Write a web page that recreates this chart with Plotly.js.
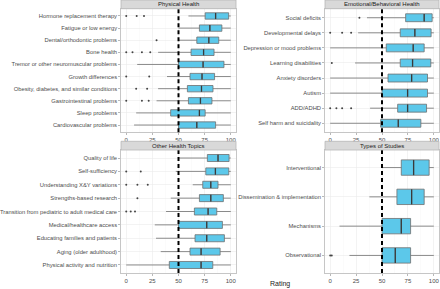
<!DOCTYPE html>
<html><head><meta charset="utf-8">
<script src="https://cdn.plot.ly/plotly-3.0.1.min.js"></script>
<style>html,body{margin:0;padding:0;background:#fff}#chart{width:440px;height:289px}</style>
</head><body><div id="chart"></div>
<script>
// ---------- DATA ----------
const panelTitles = ["Physical Health", "Emotional/Behavioral Health", "Other Health Topics", "Types of Studies"];

const physCats = ["Hormone replacement therapy","Fatigue or low energy","Dental/orthodontic problems","Bone health","Tremor or other neuromuscular problems","Growth differences","Obesity, diabetes, and similar conditions","Gastrointestinal problems","Sleep problems","Cardiovascular problems"];
const physLo  = [59.5, 50, 50, 30.5, 10.5, 39, 30.5, 29, 9.5, 7.5];
const physQ1  = [75.5, 70, 67.5, 62, 50, 61, 58.5, 59.5, 42.5, 50];
const physMed = [85.5, 80, 79, 74, 73.5, 72.5, 72, 71, 70, 67.5];
const physQ3  = [98, 91.5, 88.5, 84, 93.5, 84.5, 83, 82, 75.5, 85.5];
const physHi  = [100, 100, 100, 100, 100, 100, 100, 100, 100, 100];
const physOutCat = ["Hormone replacement therapy","Hormone replacement therapy","Hormone replacement therapy","Dental/orthodontic problems","Bone health","Bone health","Bone health","Bone health","Growth differences","Growth differences","Obesity, diabetes, and similar conditions","Obesity, diabetes, and similar conditions","Gastrointestinal problems","Gastrointestinal problems","Gastrointestinal problems"];
const physOutVal = [0, 10, 17, 29, 0, 6, 15, 23, 0, 22, 9.5, 20, 0, 15, 21.5];

const emoCats = ["Social deficits","Developmental delays","Depression or mood problems","Learning disabilities","Anxiety disorders","Autism","ADD/ADHD","Self harm and suicidality"];
const emoLo  = [35.5, 27, 0, 24, 0, 0, 38.5, 0];
const emoQ1  = [72.8, 67.6, 54.1, 67.6, 55.8, 50, 65.1, 48.7];
const emoMed = [90.7, 81.7, 80.1, 79.5, 78.6, 74.7, 74.7, 65.7];
const emoQ3  = [98.4, 97.4, 90.7, 97.1, 93.9, 93.9, 93, 87.5];
const emoHi  = [100, 100, 100, 100, 100, 100, 100, 100];
const emoOutCat = ["Social deficits","Developmental delays","Developmental delays","Developmental delays","Learning disabilities","ADD/ADHD","ADD/ADHD","ADD/ADHD","ADD/ADHD"];
const emoOutVal = [28.2, 0, 11.5, 20.2, 1.6, 0, 6, 11.5, 20.2];

const otherCats = ["Quality of life","Self-sufficiency","Understanding X&Y variations","Strengths-based research","Transition from pediatric to adult medical care","Medical/healthcare access","Educating families and patients","Aging (older adulthood)","Physical activity and nutrition"];
const otherLo  = [50, 47.4, 63.6, 42.6, 38.1, 27.3, 28.5, 33, 0];
const otherQ1  = [77.6, 76.1, 73.2, 70, 65.2, 50, 65.8, 61, 41.2];
const otherMed = [87.8, 85.3, 80.9, 80.9, 78.3, 77, 77, 71.6, 71.6];
const otherQ3  = [98.4, 98.1, 87.8, 92.9, 86.6, 92, 93.9, 89.8, 82.8];
const otherHi  = [100, 100, 100, 100, 100, 100, 100, 100, 100];
const otherOutCat = ["Self-sufficiency","Self-sufficiency","Understanding X&Y variations","Understanding X&Y variations","Understanding X&Y variations","Strengths-based research","Transition from pediatric to adult medical care","Transition from pediatric to adult medical care","Transition from pediatric to adult medical care"];
const otherOutVal = [0, 13.9, 0, 10.7, 20.6, 10.7, 0, 4.3, 8.4];

const studyCats = ["Interventional","Dissemination & implementation","Mechanisms","Observational"];
const studyLo  = [50, 37.8, 9, 18.6];
const studyQ1  = [68.6, 64.4, 50, 50];
const studyMed = [80.5, 78.6, 68.6, 62.8];
const studyQ3  = [95.5, 90.7, 77.6, 77.6];
const studyHi  = [100, 100, 100, 100];
const studyOutCat = ["Observational","Observational"];
const studyOutVal = [0, 1.5];

const threshold = 50;
const xTicks = [0, 25, 50, 75, 100];

// ---------- LAYOUT ----------
const W = 440, H = 289;
const fx = v => v / W, fy = v => 1 - v / H;
const panels = [
  {x0:121, x1:236, y0:8.7, y1:132.3},
  {x0:325, x1:439, y0:8.7, y1:132.3},
  {x0:121, x1:236, y0:150, y1:273},
  {x0:325, x1:439, y0:150, y1:273}
];
const stripH = 8.7;
const FONT = "Liberation Sans, Arial, sans-serif";
const BOXFRAC = 0.75;

const groups = [
  {cats:physCats, lo:physLo, q1:physQ1, med:physMed, q3:physQ3, hi:physHi, oc:physOutCat, ov:physOutVal},
  {cats:emoCats, lo:emoLo, q1:emoQ1, med:emoMed, q3:emoQ3, hi:emoHi, oc:emoOutCat, ov:emoOutVal},
  {cats:otherCats, lo:otherLo, q1:otherQ1, med:otherMed, q3:otherQ3, hi:otherHi, oc:otherOutCat, ov:otherOutVal},
  {cats:studyCats, lo:studyLo, q1:studyQ1, med:studyMed, q3:studyQ3, hi:studyHi, oc:studyOutCat, ov:studyOutVal}
];

const data = [];
const layout = {
  width: W, height: H,
  margin: {l:0, r:0, t:0, b:0},
  paper_bgcolor: "#fff", plot_bgcolor: "#fff",
  showlegend: false,
  boxgap: 1 - BOXFRAC,
  font: {family: FONT, size: 6, color: "#4d4d4d"},
  shapes: [], annotations: []
};

groups.forEach((g, i) => {
  const n = i + 1;
  const xa = n === 1 ? "x" : "x" + n;
  const ya = n === 1 ? "y" : "y" + n;
  const p = panels[i];
  const N = g.cats.length;
  const bandPx = (p.y1 - p.y0) / (N - 1 + 1.2);
  data.push({
    type: "box", orientation: "h", xaxis: xa, yaxis: ya,
    y: g.cats, q1: g.q1, median: g.med, q3: g.q3, lowerfence: g.lo, upperfence: g.hi,
    boxpoints: false, whiskerwidth: 0,
    fillcolor: "#5cc8ea", line: {color: "#6f6f6f", width: 0.8},
    hoverinfo: "skip"
  });
  // emphasised median bar (ggplot style); line-ns marker length = 2*size
  data.push({
    type: "scatter", mode: "markers", xaxis: xa, yaxis: ya,
    x: g.med, y: g.cats,
    marker: {symbol: "line-ns", size: bandPx * BOXFRAC / 2 - 0.3, line: {color: "#3a3a3a", width: 1.3}},
    hoverinfo: "skip"
  });
  data.push({
    type: "scatter", mode: "markers", xaxis: xa, yaxis: ya,
    x: g.ov, y: g.oc,
    marker: {size: 2, color: "#444"}, hoverinfo: "skip"
  });
  layout["xaxis" + (n === 1 ? "" : n)] = {
    domain: [fx(p.x0), fx(p.x1)], anchor: ya,
    range: [-5, 105], tickmode: "array", tickvals: xTicks,
    ticks: "outside", ticklen: 2, tickcolor: "#888", tickwidth: 0.6,
    showgrid: true, gridcolor: "#ebebeb", gridwidth: 0.6,
    minor: {tickmode: "linear", tick0: 12.5, dtick: 25, showgrid: true, gridcolor: "#f4f4f4", gridwidth: 0.4, ticks: ""},
    showline: true, mirror: true, linecolor: "#b8b8b8", linewidth: 0.8,
    zeroline: false, tickfont: {size: 6, color: "#4d4d4d", family: FONT},
    fixedrange: true
  };
  layout["yaxis" + (n === 1 ? "" : n)] = {
    domain: [fy(p.y1), fy(p.y0)], anchor: xa,
    type: "category", categoryorder: "array", categoryarray: g.cats,
    range: [N - 1 + 0.6, -0.6],
    ticks: "outside", ticklen: 2, tickcolor: "#888", tickwidth: 0.6,
    showgrid: true, gridcolor: "#ebebeb", gridwidth: 0.6,
    showline: true, mirror: true, linecolor: "#b8b8b8", linewidth: 0.8,
    zeroline: false, tickfont: {size: 5.8, color: "#4d4d4d", family: FONT},
    fixedrange: true
  };
  layout.shapes.push({
    type: "line", xref: xa, yref: ya + " domain",
    x0: threshold, x1: threshold, y0: 0, y1: 1,
    line: {color: "#000", width: 2, dash: "4px,3px"}, layer: "above"
  });
  layout.shapes.push({
    type: "rect", xref: "paper", yref: "paper",
    x0: fx(p.x0), x1: fx(p.x1), y0: fy(p.y0), y1: fy(p.y0 - stripH),
    fillcolor: "#d9d9d9", line: {color: "#b8b8b8", width: 0.8}, layer: "above"
  });
  layout.annotations.push({
    xref: "paper", yref: "paper", x: fx((p.x0 + p.x1) / 2), y: fy(p.y0 - stripH / 2),
    text: panelTitles[i], showarrow: false, xanchor: "center", yanchor: "middle",
    font: {size: 6, color: "#1a1a1a", family: FONT}
  });
});

layout.annotations.push({
  xref: "paper", yref: "paper", x: fx(280), y: fy(284),
  text: "Rating", showarrow: false, xanchor: "center", yanchor: "middle",
  font: {size: 7, color: "#1a1a1a", family: FONT}
});

Plotly.newPlot("chart", data, layout, {displayModeBar: false, staticPlot: true});
</script></body></html>
